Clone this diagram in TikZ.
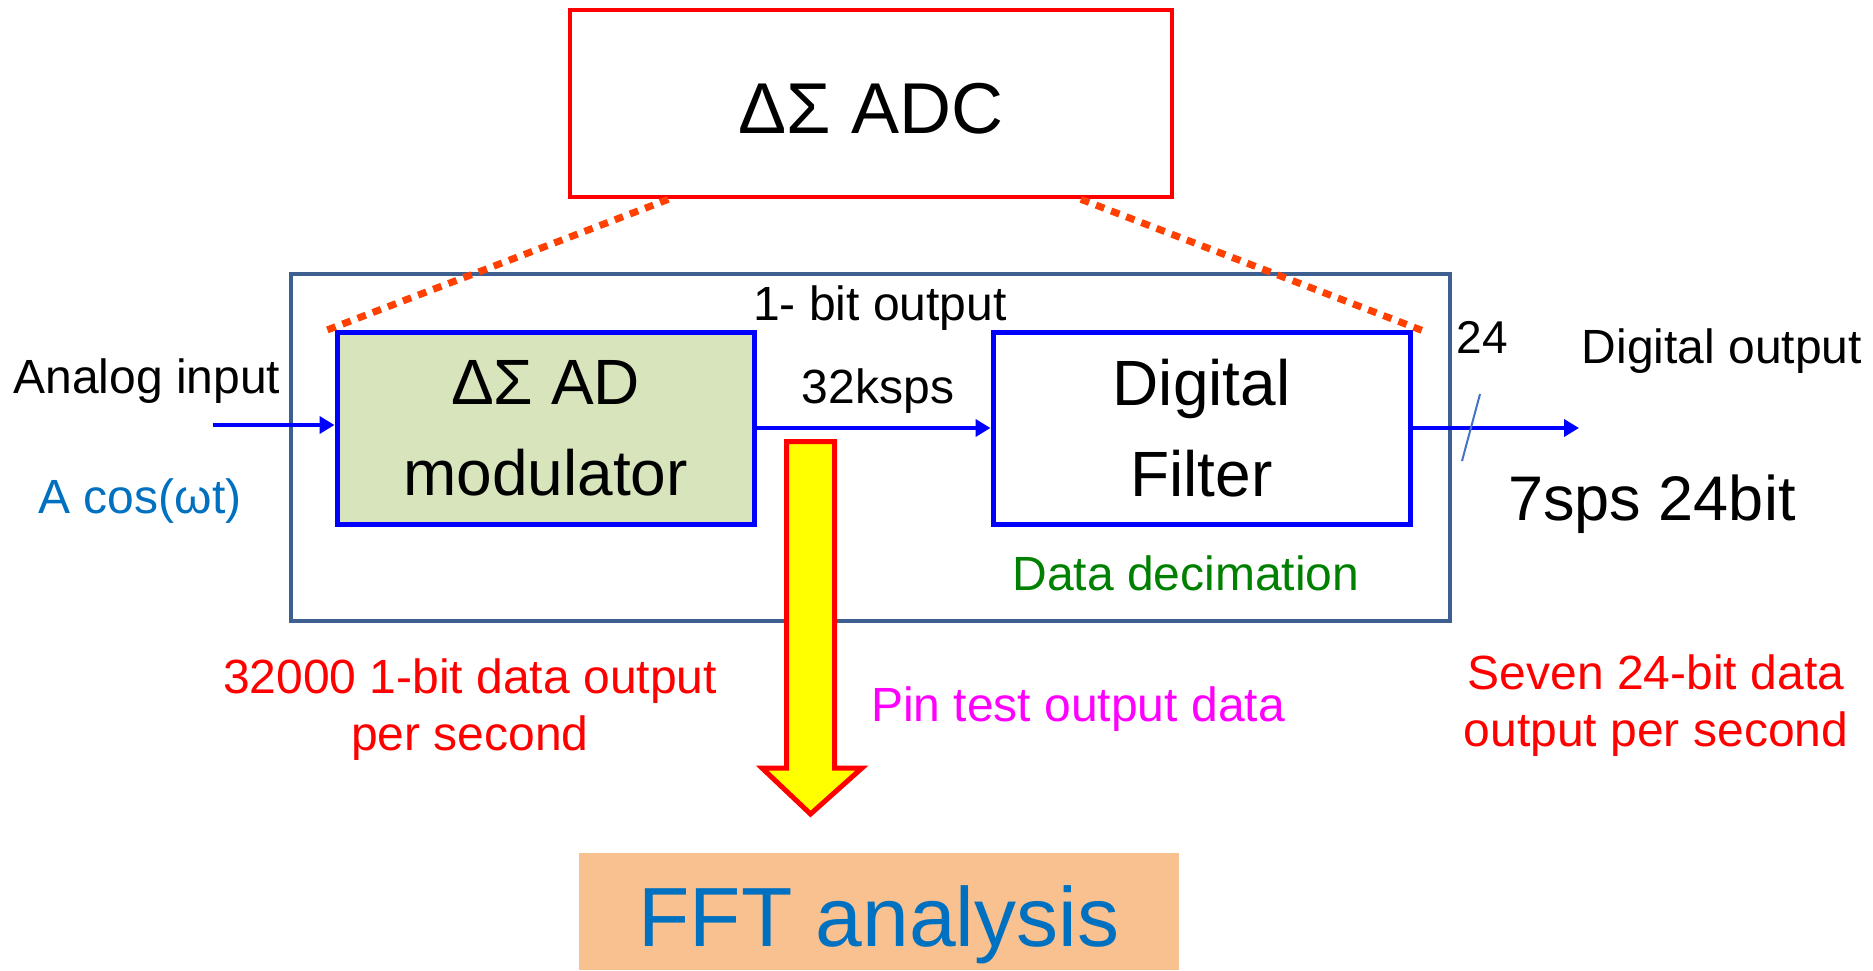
\documentclass[tikz,border=0pt]{standalone}
\usepackage{fontspec}
\setmainfont{Liberation Sans}
\usetikzlibrary{arrows.meta,calc}
\definecolor{adcred}{RGB}{255,0,0}
\definecolor{dotred}{RGB}{255,64,0}
\definecolor{framecol}{RGB}{62,96,145}
\definecolor{modgreen}{RGB}{216,228,188}
\definecolor{textblue}{RGB}{0,112,192}
\definecolor{ddgreen}{RGB}{0,128,0}
\definecolor{pinmag}{RGB}{255,0,255}
\definecolor{fftfill}{RGB}{248,193,143}
\definecolor{slashblue}{RGB}{68,114,196}
\definecolor{arrowyellow}{RGB}{255,255,0}
\begin{document}
\begin{tikzpicture}[x=0.5pt,y=-0.5pt,
  lbl/.style={inner sep=0pt, anchor=base, font=\fontsize{24}{28.5}\selectfont},
  twoline/.style={inner sep=0pt, align=center, font=\fontsize{24}{28.5}\selectfont},
  block/.style={draw=blue, line width=2.5pt, minimum width=208.5pt, minimum height=96pt,
                inner sep=0pt, align=center, font=\fontsize{32}{45.5}\selectfont},
  flow/.style={draw=blue, line width=2.2pt, -{Triangle[length=7.5pt,width=8.5pt]}},
  dots/.style={draw=dotred, line width=3.5pt, dash pattern=on 4.4pt off 3.7pt},
  bigarrow/.style={draw=adcred, line width=2.5pt, fill=arrowyellow, line join=miter}
]
\useasboundingbox[fill=white] (0,0) rectangle (1873,970);

% outer frame
\node[draw=framecol, line width=1.7pt, minimum width=579.5pt, minimum height=173.5pt, inner sep=0pt]
  (frame) at (870.5,447.5) {};

% top ADC box
\node[draw=adcred, line width=2.3pt, minimum width=301pt, minimum height=93.5pt, inner sep=0pt,
      text height=29.5pt, text depth=0pt, font=\fontsize{36}{43}\selectfont]
  (adc) at (871,103.5) {ΔΣ ADC};

% blocks
\node[block, fill=modgreen] (mod) at (545.5,428) {ΔΣ AD\\modulator};
\node[block, fill=white] (filt) at (1201.5,428) {Digital\\Filter};

% FFT box
\node[fill=fftfill, minimum width=300pt, minimum height=58.5pt, inner sep=0pt,
      text height=34.5pt, text depth=0pt, text=textblue, font=\fontsize{42}{50}\selectfont]
  (fft) at (879,911.5) {FFT analysis};

% yellow arrow
\draw[bigarrow] (786.5,441.5) -- (834.5,441.5) -- (834.5,768) -- (862,768) -- (810.5,814)
  -- (762,768) -- (786.5,768) -- cycle;

% connectors
\coordinate (ain) at (213,425);
\coordinate (dout) at (1579,428);
\draw[flow] (ain) -- (ain -| mod.west);
\draw[flow] (mod.east) -- (filt.west);
\draw[flow] (filt.east) -- (dout);

% bus slash
\coordinate (sl1) at (1480,394);
\coordinate (sl2) at (1462,461);
\draw[slashblue, line width=1pt] (sl1) -- (sl2);

% dotted projection lines
\coordinate (dl1) at ($(adc.south west)!0.166!(adc.south east)$);
\coordinate (dr1) at ($(adc.south west)!0.846!(adc.south east)$);
\draw[dots] (dl1) -- ($(mod.north west)+(-14,3)$);
\draw[dots] (dr1) -- ($(filt.north east)+(15,3)$);

% labels
\node[lbl] (onebit) at (880,320) {1- bit output};
\node[lbl] (rate) at (878,403) {32ksps};
\node[lbl] (ainlbl) at (147,393) {Analog input};
\node[lbl, text=textblue] (cos) at (140,513) {A cos(ωt)};
\node[lbl, text=ddgreen] (dec) at (1186,590) {Data decimation};
\node[lbl, font=\fontsize{23}{27}\selectfont] (bus) at (1482,353) {24};
\node[lbl] (dolbl) at (1722,363) {Digital output};
\node[lbl, font=\fontsize{31.5}{38}\selectfont] (sps) at (1652,520) {7sps 24bit};
\node[lbl, text=pinmag] (pin) at (1078,721) {Pin test output data};
\node[twoline, text=adcred] (left) at (470,710) {32000 1-bit data output\\per second};
\node[twoline, text=adcred] (right) at (1656,706) {Seven 24-bit data\\output per second};
\end{tikzpicture}
\end{document}
